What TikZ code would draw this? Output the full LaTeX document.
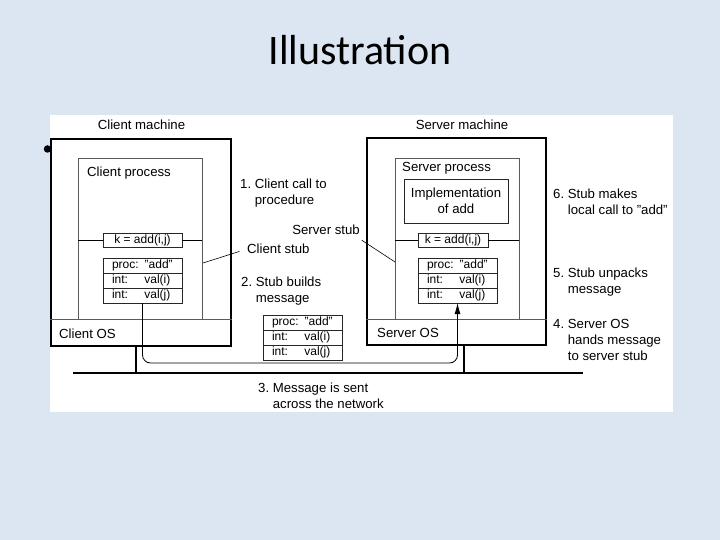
\documentclass[tikz,border=0pt]{standalone}
\usepackage{fontspec}
\setmainfont{Liberation Sans}
\newfontfamily\titlefont{Carlito}
\usepackage{tikz}
\usetikzlibrary{arrows.meta, positioning}
\definecolor{slidebg}{HTML}{DCE6F2}
\definecolor{procgray}{HTML}{5A5A5A}
\tikzstyle{machine} = [rectangle, draw=black, line width=1.4pt, inner sep=0pt]
\tikzstyle{process} = [rectangle, draw=procgray, line width=0.7pt, inner sep=0pt]
\tikzstyle{implbox} = [rectangle, draw=black!85, line width=0.9pt, minimum width=104pt, minimum height=44pt, align=center, font=\fontsize{13.2}{16}\selectfont]
\tikzstyle{callbox} = [rectangle, draw=black!85, line width=0.8pt, inner sep=0pt, minimum height=14pt, font=\fontsize{12}{14}\selectfont]
\tikzstyle{msgrow} = [rectangle, draw=black!85, line width=0.8pt, outer sep=0pt, minimum width=79pt, minimum height=15pt, text width=61pt, inner xsep=9pt, inner ysep=0pt, align=left, font=\fontsize{12}{14}\selectfont]
\tikzstyle{note} = [inner sep=0pt, align=left, font=\fontsize{13.2}{16}\selectfont]
\tikzstyle{arrow} = [line width=0.8pt, -{Latex[length=11pt,width=6pt]}]
\tikzstyle{leader} = [line width=0.6pt]
\tikzstyle{network} = [line width=2.6pt]
\tikzstyle{stem} = [line width=2pt]
\newcommand{\stepnote}[2]{\begin{tabular}{@{}l@{\ }l@{}}#1 & #2\end{tabular}}
\newcommand{\field}[2]{\makebox[2.7em][l]{#1}#2}
\newcommand{\dq}{\symbol{34}}

\begin{document}
\begin{tikzpicture}[x=1pt, y=-1pt]
    % Slide
    \fill[slidebg] (0,0) rectangle (720,540);
    \node[font=\titlefont\fontsize{42}{50}\selectfont, anchor=base] (title) at (360,65) {Illustration};
    \node[circle, fill=black, inner sep=0pt, minimum size=7.5pt] (bullet) at (47.5,149) {};
    \fill[white] (50,115) rectangle (673,412);

    % Client side
    \node[machine, minimum width=180pt, minimum height=207pt] (clientmachine) at (141,242.5) {};
    \node[note] (clientmachinelbl) at (141.5,125) {Client machine};
    \node[process, minimum width=124pt, minimum height=161pt] (clientproc) at (140,238.5) {};
    \node[note, anchor=west] (clientproclbl) at (87,173) {Client process};
    \node[note, anchor=west] (clientos) at (59,334) {Client OS};
    \node[callbox, minimum width=79pt] (ccall) at (142.5,240.5) {k = add(i,j)};
    \node[msgrow] (cmsg1) at (142.5,265.5) {proc: \dq add\dq};
    \node[msgrow, below=0pt of cmsg1] (cmsg2) {\field{int:}{val(i)}};
    \node[msgrow, below=0pt of cmsg2] (cmsg3) {\field{int:}{val(j)}};

    % Server side
    \node[machine, minimum width=179pt, minimum height=207pt] (servermachine) at (456.5,241.5) {};
    \node[note] (servermachinelbl) at (462,125) {Server machine};
    \node[process, minimum width=124pt, minimum height=161pt] (serverproc) at (457,238.5) {};
    \node[note, anchor=west] (serverproclbl) at (402,168) {Server process};
    \node[note, anchor=west] (serveros) at (377,333) {Server OS};
    \node[implbox] (impl) at (456,201) {Implementation\\of add};
    \node[callbox, minimum width=70pt] (scall) at (453,240.5) {k = add(i,j)};
    \node[msgrow] (smsg1) at (457.5,265.5) {proc: \dq add\dq};
    \node[msgrow, below=0pt of smsg1] (smsg2) {\field{int:}{val(i)}};
    \node[msgrow, below=0pt of smsg2] (smsg3) {\field{int:}{val(j)}};

    % Message on the wire
    \node[msgrow] (wmsg1) at (302.5,322.5) {proc: \dq add\dq};
    \node[msgrow, below=0pt of wmsg1] (wmsg2) {\field{int:}{val(i)}};
    \node[msgrow, below=0pt of wmsg2] (wmsg3) {\field{int:}{val(j)}};

    % Steps
    \node[note, anchor=west] (step1) at (240,193) {\stepnote{1.}{Client call to\\ & procedure}};
    \node[note, anchor=east] (serverstub) at (360,230) {Server stub};
    \node[note, anchor=west] (clientstub) at (247,249) {Client stub};
    \node[note, anchor=west] (step2) at (241,291) {\stepnote{2.}{Stub builds\\ & message}};
    \node[note, anchor=west] (step3) at (258,397.5) {\stepnote{3.}{Message is sent\\ & across the network}};
    \node[note, anchor=west] (step4) at (553,341) {\stepnote{4.}{Server OS\\ & hands message\\ & to server stub}};
    \node[note, anchor=west] (step5) at (553,282) {\stepnote{5.}{Stub unpacks\\ & message}};
    \node[note, anchor=west] (step6) at (553,203) {\stepnote{6.}{Stub makes\\ & local call to \dq add\dq}};

    % Network
    \coordinate (netL) at (73,373);
    \coordinate (netR) at (583,373);
    \coordinate (msgbend) at (300,363);
    \coordinate (cstubtip) at (203,263);
    \coordinate (sstubtip) at (395,262);

    % Connections
    \draw[process] (clientmachine.west |- clientproc.south) -- (clientmachine.east |- clientproc.south);
    \draw[process] (servermachine.west |- serverproc.south) -- (servermachine.east |- serverproc.south);
    \draw[line width=0.8pt] (clientproc.west |- ccall) -- (ccall.west);
    \draw[line width=0.8pt] (ccall.east) -- (clientproc.east |- ccall);
    \draw[line width=0.8pt] (serverproc.west |- scall) -- (scall.west);
    \draw[line width=0.8pt] (scall.east) -- (serverproc.east |- scall);
    \draw[network] (netL) -- (netR);
    \draw[stem] ([xshift=-5pt]clientmachine.south) -- ([xshift=-5pt]clientmachine.south |- netL);
    \draw[stem] ([xshift=7.5pt]servermachine.south) -- ([xshift=7.5pt]servermachine.south |- netL);
    \draw[arrow, rounded corners=8pt] (cmsg3.south) |- (msgbend) -| (smsg3.south);
    \draw[leader, shorten <=8pt] (clientstub.west) -- (cstubtip);
    \draw[leader, shorten <=2pt] ([yshift=-4pt]serverstub.south east) -- (sstubtip);
\end{tikzpicture}
\end{document}
